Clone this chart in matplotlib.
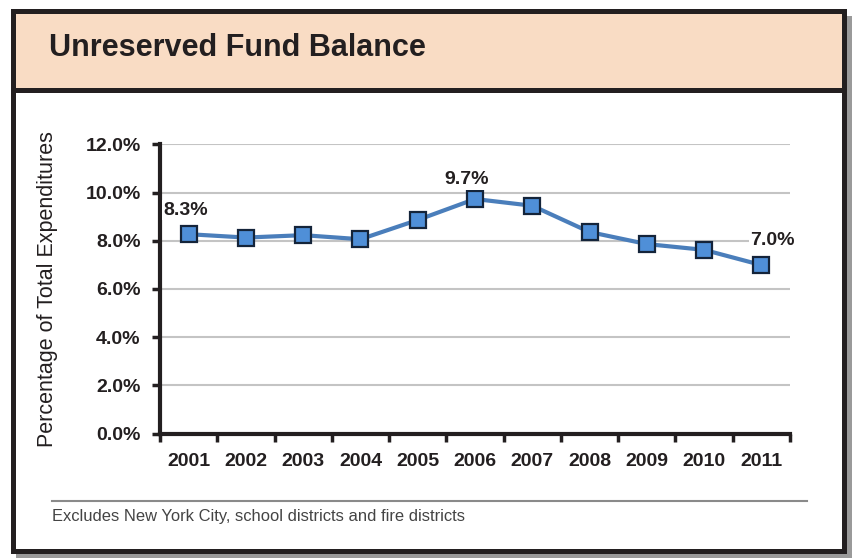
import matplotlib
matplotlib.use("Agg")
import matplotlib.pyplot as plt
from matplotlib.patches import Rectangle
from matplotlib.lines import Line2D
from matplotlib.ticker import FixedLocator

# Unreserved fund balance as share of total expenditures
years = ["2001", "2002", "2003", "2004", "2005", "2006",
         "2007", "2008", "2009", "2010", "2011"]
pct_values = [8.27, 8.13, 8.23, 8.06, 8.86, 9.73, 9.45, 8.36, 7.86, 7.62, 6.99]
labelled = {0: "8.3%", 5: "9.7%", 10: "7.0%"}
y_ticks = [0, 2, 4, 6, 8, 10, 12]

W, H = 852, 558
FONT = ["Liberation Sans", "DejaVu Sans"]
plt.rcParams["font.family"] = FONT

fig = plt.figure(figsize=(W / 100, H / 100), dpi=100)
fig.patch.set_facecolor("white")


def px_box(x0, y0, x1, y1, **kw):
    # rectangle in pixel coords measured from the top-left corner
    r = Rectangle((x0 / W, 1 - y1 / H), (x1 - x0) / W, (y1 - y0) / H,
                  transform=fig.transFigure, **kw)
    fig.patches.append(r)
    return r


def px_line(x0, y0, x1, y1, **kw):
    fig.lines.append(Line2D([x0 / W, x1 / W], [1 - y0 / H, 1 - y1 / H],
                            transform=fig.transFigure, **kw))


# drop shadow, frame, header band
px_box(16, 16, 852, 558, facecolor="#9a9a9a", edgecolor="none", zorder=0)
px_box(11, 9, 847, 554, facecolor="#231f20", edgecolor="none", zorder=1)
px_box(16, 14, 842, 549, facecolor="white", edgecolor="none", zorder=2)
px_box(16, 14, 842, 88, facecolor="#f9dcc4", edgecolor="none", zorder=3)
px_box(16, 88, 842, 93, facecolor="#231f20", edgecolor="none", zorder=3)

fig.text(49 / W, 1 - 48 / H, "Unreserved Fund Balance", fontsize=22,
         fontweight="bold", color="#231f20", ha="left", va="center", zorder=4)

# footnote rule and text
px_line(52, 501, 807, 501, color="#8a8a8a", linewidth=1.5, zorder=4)
fig.text(52 / W, 1 - 516 / H, "Excludes New York City, school districts and fire districts",
         fontsize=11.9, color="#444444", ha="left", va="center", zorder=4)

ax = fig.add_axes([160 / W, 1 - 433.5 / H, 630 / W, 289.2 / H])
ax.set_zorder(5)
ax.patch.set_alpha(0)

x = list(range(len(years)))
ax.plot(x, pct_values, color="#4a7ebb", linewidth=3, zorder=3,
        marker="s", markersize=11, markerfacecolor="#4f8fd8",
        markeredgecolor="#14243a", markeredgewidth=1.6)

ax.set_xlim(-0.5, len(years) - 0.5)
ax.set_ylim(0, 12)
ax.set_yticks(y_ticks)
ax.set_yticklabels([f"{v:.1f}%" for v in y_ticks])
ax.yaxis.grid(True, color="#c4c4c4", linewidth=1.5, zorder=0)
ax.set_axisbelow(True)

ax.set_xticks(x)
ax.set_xticklabels(years)
ax.xaxis.set_minor_locator(FixedLocator([i - 0.5 for i in range(len(years) + 1)]))
ax.tick_params(axis="x", which="major", length=0, pad=14)
ax.tick_params(axis="x", which="minor", length=6, width=2.5, direction="out", color="#231f20")
ax.tick_params(axis="y", length=6, width=2.5, direction="out", color="#231f20", pad=8)
for lbl in ax.get_xticklabels() + ax.get_yticklabels():
    lbl.set_fontweight("bold")
    lbl.set_fontsize(14)
    lbl.set_color("#231f20")

for side in ("top", "right"):
    ax.spines[side].set_visible(False)
for side in ("left", "bottom"):
    ax.spines[side].set_linewidth(3)
    ax.spines[side].set_color("#231f20")

ax.set_ylabel("Percentage of Total Expenditures", fontsize=15.5, color="#231f20",
              labelpad=20)

offsets = {0: (-0.05, 1.0), 5: (-0.15, 0.8), 10: (0.2, 1.0)}
for i, txt in labelled.items():
    dx, dy = offsets[i]
    ax.text(i + dx, pct_values[i] + dy, txt, fontsize=14, fontweight="bold",
            color="#231f20", ha="center", va="center", zorder=4,
            bbox=dict(facecolor="white", edgecolor="none", pad=1))

fig.savefig("out.png", dpi=100)
